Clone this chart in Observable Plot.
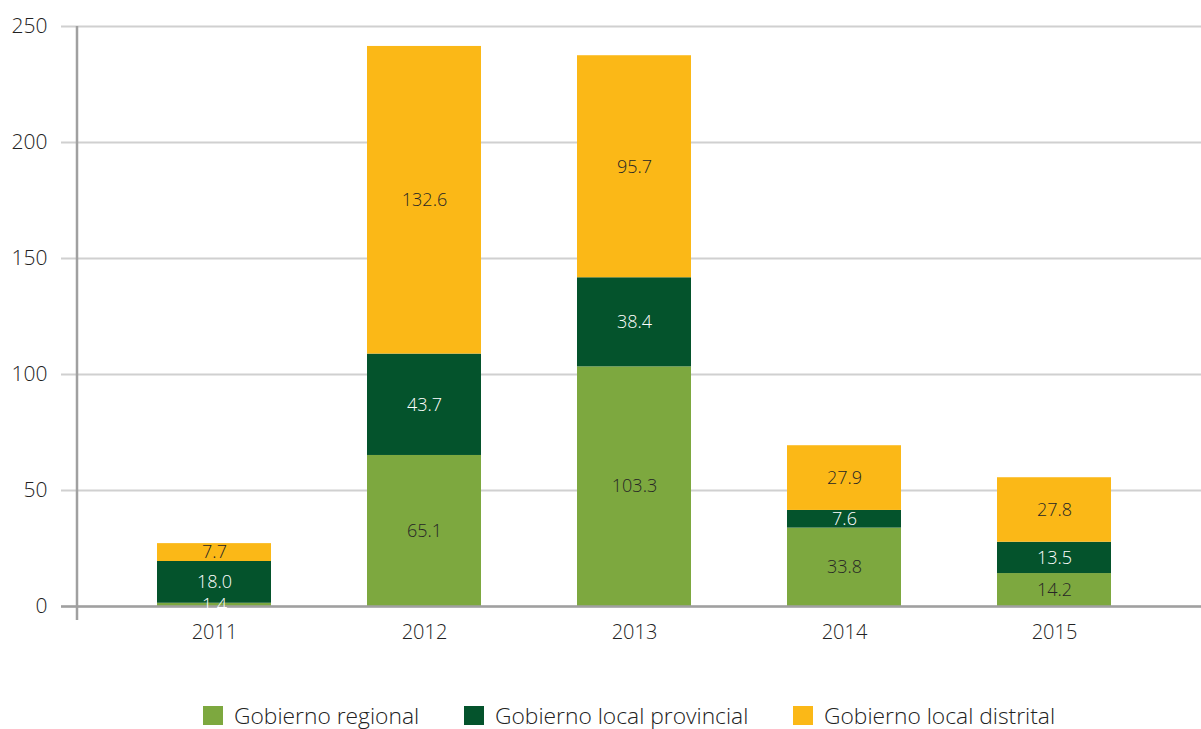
<!DOCTYPE html>
<html>
<head>
<meta charset="utf-8">
<script src="https://cdn.jsdelivr.net/npm/d3@7"></script>
<script src="https://cdn.jsdelivr.net/npm/@observablehq/plot@0.6"></script>
<style>
  html, body { margin: 0; padding: 0; background: #fff; }
  body { width: 1201px; height: 729px; overflow: hidden; font-family: "Open Sans", sans-serif; font-weight: 300; }
  #legend { position: absolute; top: 702px; left: 0; width: 1201px; height: 27px; }
  .item { position: absolute; top: 0; height: 27px; display: flex; align-items: center; font-size: 22.8px; color: #222; white-space: nowrap; }
  .sw { width: 20px; height: 19px; margin-right: 11px; }
</style>
</head>
<body>
<div id="chart"></div>
<div id="legend"></div>
<script>
const years = ["2011", "2012", "2013", "2014", "2015"];
const series = ["Gobierno regional", "Gobierno local provincial", "Gobierno local distrital"];
const regional = [1.4, 65.1, 103.3, 33.8, 14.2];
const provincial = [18.0, 43.7, 38.4, 7.6, 13.5];
const distrital = [7.7, 132.6, 95.7, 27.9, 27.8];
const colors = ["#7da83f", "#04532c", "#fbb817"];
const yTicks = [0, 50, 100, 150, 200, 250];

const values = [regional, provincial, distrital];
const data = [];
series.forEach((s, si) => years.forEach((y, yi) => data.push({year: y, series: s, value: values[si][yi]})));

const labelFill = d => d.series === series[1] || d.value < 5 ? "#ffffff" : "#262626";

const axisLine = (index, scales, vals, dims) => {
  const g = document.createElementNS("http://www.w3.org/2000/svg", "line");
  const x = dims.marginLeft + 16;
  g.setAttribute("x1", x); g.setAttribute("x2", x);
  g.setAttribute("y1", scales.y(250)); g.setAttribute("y2", scales.y(0) + 14);
  g.setAttribute("stroke", "#a0a0a0"); g.setAttribute("stroke-width", 2.5);
  return g;
};

const chart = Plot.plot({
  width: 1201,
  height: 660,
  marginLeft: 61,
  marginRight: 0,
  marginTop: 26,
  marginBottom: 54,
  style: {fontFamily: "Open Sans, sans-serif", fontWeight: 300, fontSize: "18px", color: "#222", background: "#fff"},
  x: {domain: years, paddingInner: 0.458, paddingOuter: 0, insetLeft: 95.4, insetRight: 88.6, label: null},
  y: {domain: [0, 250], label: null},
  color: {domain: series, range: colors},
  marks: [
    Plot.gridY(yTicks, {stroke: "#d0d0d0", strokeOpacity: 1, strokeWidth: 2}),
    Plot.barY(data, {x: "year", y: "value", fill: "series", order: series}),
    Plot.ruleY([0], {stroke: "#a0a0a0", strokeWidth: 2.5}),
    axisLine,
    Plot.text(data, Plot.stackY({x: "year", y: "value", z: "series", order: series, text: d => d3.format(".1f")(d.value), fill: labelFill, fontSize: 18})),
    Plot.axisY({ticks: yTicks, tickSize: 0, tickPadding: 14, fontSize: 21, tickFormat: d => d}),
    Plot.axisX({tickSize: 0, tickPadding: 18, fontSize: 20})
  ]
});
document.getElementById("chart").appendChild(chart);

const lefts = [203, 464, 793];
const legend = document.getElementById("legend");
series.forEach((s, i) => {
  const it = document.createElement("div");
  it.className = "item";
  it.style.left = lefts[i] + "px";
  it.innerHTML = `<div class="sw" style="background:${colors[i]}"></div><span>${s}</span>`;
  legend.appendChild(it);
});
</script>
</body>
</html>
